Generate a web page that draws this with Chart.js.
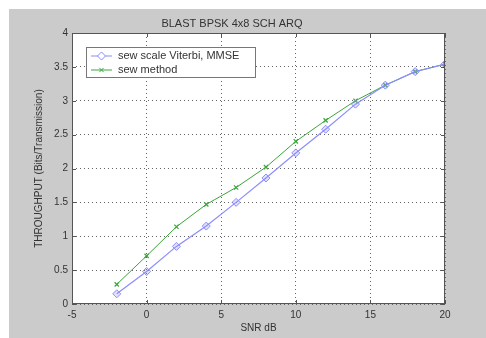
<!DOCTYPE html>
<html>
<head>
<meta charset="UTF-8">
<title>BLAST BPSK throughput</title>
<script src="https://cdn.jsdelivr.net/npm/chart.js@4.4.1/dist/chart.umd.min.js"></script>
<style>
html,body{margin:0;padding:0;background:#fff;}
#wrap{width:486px;height:338px;}
</style>
</head>
<body>
<div id="wrap"><canvas id="c" width="486" height="338"></canvas></div>
<script>
// data
const snr = [-2, 0, 2, 4, 6, 8, 10, 12, 14, 16, 18, 20];
const viterbiMmse = [0.15, 0.48, 0.85, 1.15, 1.50, 1.86, 2.23, 2.58, 2.95, 3.23, 3.43, 3.54];
const newMethod  = [0.29, 0.71, 1.14, 1.47, 1.72, 2.02, 2.40, 2.71, 3.00, 3.23, 3.43, 3.54];
const xTicks = [-5, 0, 5, 10, 15, 20];
const yTicks = [0, 0.5, 1, 1.5, 2, 2.5, 3, 3.5, 4];
const labels = ['sew scale Viterbi, MMSE', 'sew method'];
const titleText = 'BLAST BPSK 4x8 SCH ARQ';

const FONT = 'Liberation Sans, Arial, sans-serif';
const GREY = '#cbcbcb';
const INK = '#333';

// grey figure, white axes, frame, inner ticks, title and legend box
const matlabLook = {
    id:'matlabLook',
    beforeDraw(chart){
        const {ctx, chartArea:a} = chart;
        ctx.save();
        ctx.fillStyle = '#fff';
        ctx.fillRect(0,0,chart.width,chart.height);
        ctx.fillStyle = GREY;
        ctx.fillRect(9,9,chart.width-9,chart.height-9);
        ctx.fillStyle = '#fff';
        ctx.fillRect(a.left,a.top,a.right-a.left,a.bottom-a.top);
        ctx.restore();
    },
    afterDatasetsDraw(chart){
        const {ctx, chartArea:a, scales} = chart;
        ctx.save();
        ctx.strokeStyle = '#555';
        ctx.lineWidth = 1;
        ctx.strokeRect(a.left+0.5,a.top+0.5,a.right-a.left-1,a.bottom-a.top-1);
        ctx.beginPath();
        xTicks.forEach(v=>{
            const x = Math.round(scales.x.getPixelForValue(v))+0.5;
            ctx.moveTo(x,a.bottom); ctx.lineTo(x,a.bottom-4);
            ctx.moveTo(x,a.top); ctx.lineTo(x,a.top+4);
        });
        yTicks.forEach(v=>{
            const y = Math.round(scales.y.getPixelForValue(v))+0.5;
            ctx.moveTo(a.left,y); ctx.lineTo(a.left+4,y);
            ctx.moveTo(a.right,y); ctx.lineTo(a.right-4,y);
        });
        ctx.stroke();

        // title
        ctx.fillStyle = INK;
        ctx.font = '11px '+FONT;
        ctx.textAlign = 'center';
        ctx.textBaseline = 'middle';
        ctx.fillText(titleText, 232, 24);

        // legend inside the axes
        const bx = 86, by = 47, bw = 169, bh = 30;
        ctx.fillStyle = '#fff';
        ctx.fillRect(bx,by,bw,bh);
        ctx.strokeStyle = '#777';
        ctx.strokeRect(bx+0.5,by+0.5,bw,bh);
        chart.data.datasets.forEach((ds,i)=>{
            const y = by + 9 + i*14;
            ctx.strokeStyle = ds.borderColor;
            ctx.lineWidth = 1;
            ctx.beginPath(); ctx.moveTo(91,y); ctx.lineTo(112,y); ctx.stroke();
            Chart.helpers.drawPoint(ctx,{pointStyle:ds.pointStyle,radius:ds.pointRadius,borderWidth:1,rotation:0},101.5,y);
            ctx.fillStyle = INK;
            ctx.textAlign = 'left';
            ctx.fillText(ds.label,118,y);
        });
        ctx.restore();
    }
};

new Chart(document.getElementById('c'),{
    type:'line',
    data:{
        datasets:[
            {label:labels[0], data:snr.map((x,i)=>({x, y:viterbiMmse[i]})),
             borderColor:'#8c8cff', backgroundColor:'rgba(140,140,255,0.25)',
             borderWidth:1.2, pointStyle:'rectRot', pointRadius:4, pointBorderWidth:1, tension:0},
            {label:labels[1], data:snr.map((x,i)=>({x, y:newMethod[i]})),
             borderColor:'#3aa63a', backgroundColor:'#3aa63a',
             borderWidth:1, pointStyle:'crossRot', pointRadius:3, pointBorderWidth:1.2, tension:0}
        ]
    },
    options:{
        responsive:false,
        animation:false,
        layout:{padding:{top:33,right:41,left:0,bottom:0}},
        plugins:{legend:{display:false},title:{display:false},tooltip:{enabled:false}},
        scales:{
            x:{type:'linear', min:-5, max:20,
               afterBuildTicks:s=>{s.ticks = xTicks.map(v=>({value:v}));},
               afterFit:s=>{s.height = 34;},
               grid:{color:'#666', drawTicks:false},
               border:{display:false, dash:[1,3]},
               ticks:{color:INK, padding:5, maxRotation:0, callback:v=>String(v), font:{size:10, family:FONT}},
               title:{display:true, text:'SNR dB', color:INK, padding:{top:0,bottom:4}, font:{size:10, family:FONT}}},
            y:{type:'linear', min:0, max:4,
               afterBuildTicks:s=>{s.ticks = yTicks.map(v=>({value:v}));},
               afterFit:s=>{s.width = 72;},
               grid:{color:'#666', drawTicks:false},
               border:{display:false, dash:[1,3]},
               ticks:{color:INK, padding:4, callback:v=>String(v), font:{size:10, family:FONT}},
               title:{display:true, text:'THROUGHPUT (Bits/Transmission)', color:INK, padding:{top:33,bottom:0}, font:{size:10, family:FONT}}}
        }
    },
    plugins:[matlabLook]
});
</script>
</body>
</html>
